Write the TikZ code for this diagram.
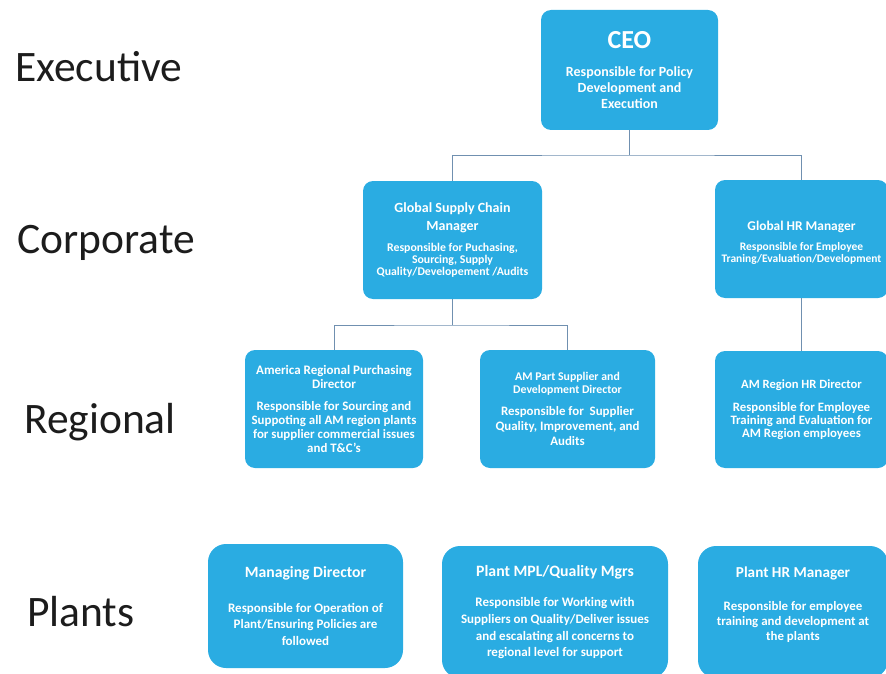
\documentclass[tikz,border=0pt]{standalone}
\usepackage{fontspec}
\setmainfont{Carlito}
\definecolor{orgblau}{HTML}{2AACE2}
\definecolor{stamm}{HTML}{7090B0}
\definecolor{ebenentext}{HTML}{1C1C1C}
\tikzset{
  box/.style={fill=orgblau,rounded corners=10pt,text=white,align=center,inner sep=2pt},
  pbox/.style={box,rounded corners=18pt},
  link/.style={stamm,line width=0.8pt},
  ebene/.style={ebenentext,anchor=base west,inner sep=0pt,font=\fontsize{43.5}{48}\selectfont},
}

\begin{document}
\begin{tikzpicture}[x=1pt,y=-1pt]
  \useasboundingbox (0,0) rectangle (886,674);
  % Ebenen
  \node[ebene] (lexe) at (15,82) {Executive};
  \node[ebene] (lcor) at (17,253) {Corporate};
  \node[ebene] (lreg) at (24,433) {Regional};
  \node[ebene] (lpla) at (27,626) {Plants};
  % Executive
  \node[box,minimum width=177pt,minimum height=120pt,
        font=\bfseries\fontsize{14}{16}\selectfont] (ceo) at (629.5,70)
    {{\fontsize{26}{30}\selectfont CEO}\\[12pt]
     Responsible for Policy\\
     Development and\\
     Execution};
  % Corporate
  \node[box,minimum width=179pt,minimum height=118pt,
        font=\bfseries\fontsize{11.8}{12}\selectfont] (gsc) at (452.5,240)
    {{\fontsize{14}{17}\selectfont Global Supply Chain}\\[6pt]
     {\fontsize{14}{17}\selectfont Manager}\\[9pt]
     Responsible for Puchasing,\\
     Sourcing, Supply\\
     Quality/Developement /Audits};
  \node[box,minimum width=173pt,minimum height=118pt,
        font=\bfseries\fontsize{11.5}{11.5}\selectfont] (ghr) at (801.5,239)
    {\rule{0pt}{16pt}{\fontsize{13.4}{16}\selectfont Global HR Manager}\\[9pt]
     Responsible for Employee\\
     Traning/Evaluation/Development};
  % Regional
  \node[box,minimum width=178pt,minimum height=118pt,
        font=\bfseries\fontsize{12.9}{14}\selectfont] (arp) at (334,409)
    {{\fontsize{13}{14}\selectfont America Regional Purchasing}\\
     {\fontsize{13}{14}\selectfont Director}\\[8pt]
     Responsible for Sourcing and\\
     Suppoting all AM region plants\\
     for supplier commercial issues\\
     and T\&C's};
  \node[box,minimum width=175pt,minimum height=118pt,
        font=\bfseries\fontsize{12.9}{15}\selectfont] (aps) at (567.5,409)
    {{\fontsize{11.8}{13}\selectfont AM Part Supplier and}\\[-2pt]
     {\fontsize{11.8}{13}\selectfont Development Director}\\[7pt]
     Responsible for\ \ Supplier\\
     Quality, Improvement, and\\
     Audits};
  \node[box,minimum width=173pt,minimum height=117pt,
        font=\bfseries\fontsize{12.8}{12.8}\selectfont] (ahr) at (801.5,409.5)
    {{\fontsize{12.6}{14}\selectfont AM Region HR Director}\\[10pt]
     Responsible for Employee\\
     Training and Evaluation for\\
     AM Region employees};
  % Plants
  \node[pbox,minimum width=195pt,minimum height=124pt,
        font=\bfseries\fontsize{13}{16.5}\selectfont] (mdr) at (305.5,606)
    {{\fontsize{15.7}{18}\selectfont Managing Director}\\[18pt]
     Responsible for Operation of\\
     Plant/Ensuring Policies are\\
     followed};
  \node[pbox,minimum width=226pt,minimum height=132pt,
        font=\bfseries\fontsize{13}{16.7}\selectfont] (mpl) at (555,612)
    {{\fontsize{15.8}{18}\selectfont Plant MPL/Quality Mgrs}\\[14pt]
     Responsible for Working with\\
     Suppliers on Quality/Deliver issues\\
     and escalating all concerns to\\
     regional level for support};
  \node[pbox,minimum width=190pt,minimum height=132pt,
        font=\bfseries\fontsize{12.9}{15}\selectfont] (phr) at (793,612)
    {{\fontsize{15.2}{18}\selectfont Plant HR Manager}\\[18pt]
     Responsible for employee\\
     training and development at\\
     the plants\\[2pt]};
  % Verbindungen
  \coordinate (k1) at (629.5,155);
  \coordinate (k2) at (452.5,325);
  \draw[link] (ceo.south) -- (k1);
  \draw[link] (gsc.north) |- (k1) -| (ghr.north);
  \draw[link] (gsc.south) -- (k2);
  \draw[link] (arp.north) |- (k2) -| (aps.north);
  \draw[link] (ghr.south) -- (ahr.north);
\end{tikzpicture}
\end{document}
